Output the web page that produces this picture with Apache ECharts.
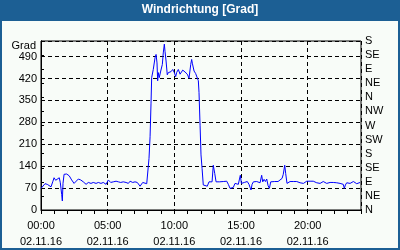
<!DOCTYPE html>
<html><head><meta charset="utf-8">
<script src="https://cdn.jsdelivr.net/npm/echarts@6/dist/echarts.min.js"></script>
<style>html,body{margin:0;padding:0;background:#fff}#c{width:400px;height:250px}</style>
</head><body><div id="c"></div>
<script>
var titleText = 'Windrichtung [Grad]';
var dateLabel = '02.11.16';
var compass = ['N','NE','E','SE','S','SW','W','NW','N','NE','E','SE','S'];
var hours = [0.00,0.13,0.30,0.47,0.62,0.75,0.88,0.98,1.10,1.22,1.37,1.45,1.55,1.60,1.65,1.73,1.93,2.12,2.30,2.48,2.63,2.80,2.98,3.17,3.38,3.55,3.75,3.92,4.13,4.30,4.50,4.67,4.88,5.05,5.23,5.42,5.63,5.80,5.98,6.17,6.38,6.55,6.68,6.88,7.05,7.22,7.43,7.63,7.75,7.93,8.05,8.10,8.18,8.25,8.30,8.42,8.55,8.63,8.70,8.75,8.80,8.87,8.98,9.10,9.17,9.25,9.30,9.38,9.47,9.55,9.62,9.75,9.88,10.00,10.10,10.18,10.30,10.43,10.63,10.80,10.97,11.10,11.23,11.30,11.35,11.48,11.60,11.72,11.80,11.85,11.93,12.00,12.08,12.17,12.30,12.47,12.60,12.73,12.83,12.92,13.03,13.13,13.25,13.37,13.50,13.67,13.80,13.93,14.05,14.18,14.30,14.42,14.55,14.68,14.80,14.87,14.95,15.03,15.13,15.25,15.38,15.47,15.60,15.68,15.75,15.83,15.93,16.05,16.18,16.30,16.43,16.55,16.63,16.73,16.83,16.93,17.03,17.13,17.23,17.38,17.53,17.63,17.78,17.93,18.08,18.17,18.28,18.35,18.45,18.55,18.68,18.80,18.92,19.05,19.18,19.30,19.43,19.55,19.68,19.80,19.93,20.05,20.18,20.30,20.42,20.55,20.68,20.80,20.93,21.05,21.17,21.30,21.43,21.55,21.68,21.80,21.92,22.05,22.18,22.30,22.43,22.55,22.67,22.75,22.83,22.93,23.05,23.18,23.30,23.43,23.55,23.68,23.80,23.93];
var values = [69,72,84,82,80,74,90,103,95,90,103,87,50,29,85,114,115,109,96,85,80,99,96,90,82,88,85,88,85,88,85,88,82,96,88,90,92,90,88,90,88,85,92,88,90,88,76,88,92,84,90,165,234,339,423,449,486,497,470,413,439,423,444,465,502,530,507,476,432,439,444,442,449,439,426,440,449,434,447,441,434,421,465,481,469,444,436,432,413,376,271,176,133,80,75,76,90,96,90,143,117,90,85,90,85,91,90,92,82,69,67,72,85,90,82,96,111,85,91,88,85,91,82,72,64,82,90,87,91,85,87,111,90,98,91,99,78,69,90,92,91,88,91,92,101,114,143,117,85,91,91,88,91,87,91,85,87,82,85,91,92,91,92,91,92,91,87,91,85,82,91,95,85,91,88,91,88,91,87,88,85,91,82,69,80,87,91,85,82,91,88,84,87,88];
var data = hours.map(function(h,i){return [h, values[i]];});
var FONT = "'Liberation Sans', Arial, sans-serif";
var chart = echarts.init(document.getElementById('c'), null, {renderer:'canvas'});
function pad(n){return (n<10?'0':'')+n;}
chart.setOption({
  backgroundColor: '#1c5f94',
  animation: false,
  graphic: [
    {type:'rect', left:2, top:21, shape:{width:396,height:227}, style:{fill:'#f8fcf8'}, z:-10},
    {type:'text', left:'center', top:4, style:{text:titleText, fill:'#ffffff', font:'bold 12px '+FONT}, z:10}
  ],
  grid: {left:41, right:39, top:41, bottom:38, show:true, borderColor:'#000', borderWidth:1, backgroundColor:'transparent'},
  xAxis: [
    {type:'value', min:0, max:24, interval:1, position:'bottom',
     axisLine:{show:true, lineStyle:{color:'#000', width:1}},
     axisTick:{show:true, length:4, inside:false, lineStyle:{color:'#000'}},
     axisLabel:{show:false}, splitLine:{show:false}},
    {type:'value', min:0, max:24, interval:5, position:'bottom',
     axisLine:{show:false}, axisTick:{show:false},
     splitLine:{show:true, lineStyle:{color:'#000', type:[4,3], width:1}},
     axisLabel:{show:true, showMaxLabel:false, margin:8, color:'#000', fontSize:11, fontFamily:FONT, lineHeight:16,
       formatter:function(v){return pad(v)+':00\n'+dateLabel;}}}
  ],
  yAxis: [
    {type:'value', min:0, max:540, interval:70, position:'left',
     name:'Grad', nameLocation:'end', nameGap:-1,
     nameTextStyle:{color:'#000', fontSize:11, fontFamily:FONT, align:'right', verticalAlign:'top', padding:[0,5,0,0]},
     axisLine:{show:true, lineStyle:{color:'#000'}}, axisTick:{show:false},
     splitLine:{show:true, lineStyle:{color:'#000', type:[4,3], width:1}},
     axisLabel:{showMaxLabel:false, margin:4, color:'#000', fontSize:11, fontFamily:FONT}},
    {type:'value', min:0, max:540, interval:45, position:'right',
     axisLine:{show:true, lineStyle:{color:'#000'}},
     axisTick:{show:true, length:3, inside:false, lineStyle:{color:'#000'}},
     splitLine:{show:false},
     axisLabel:{margin:4, color:'#000', fontSize:11, fontFamily:FONT,
       formatter:function(v){return compass[Math.round(v/45)];}}}
  ],
  series: [{type:'line', xAxisIndex:0, yAxisIndex:0, data:data, showSymbol:false, symbol:'none',
    lineStyle:{color:'#0000ff', width:1}, z:5}]
});
</script></body></html>
